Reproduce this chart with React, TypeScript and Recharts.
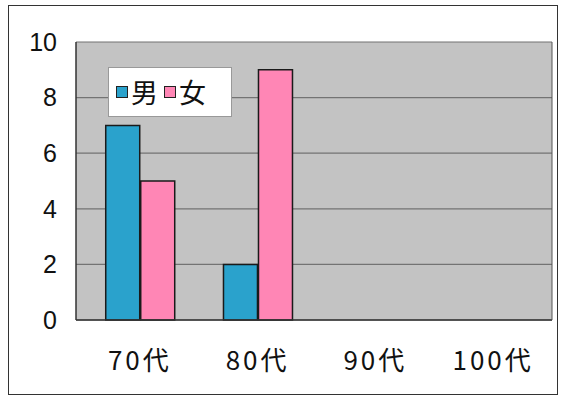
import { BarChart, Bar, XAxis, YAxis, CartesianGrid, Legend } from 'recharts';

const categories = ['70代', '80代', '90代', '100代'];
const maleCounts = [7, 2, 0, 0];
const femaleCounts = [5, 9, 0, 0];
const yTicks = [0, 2, 4, 6, 8, 10];

const MALE = '#2aa2cc';
const FEMALE = '#ff86b5';

const data = categories.map((age, i) => ({ age, male: maleCounts[i], female: femaleCounts[i] }));

function LegendBox() {
  const item = (color: string, label: string) => (
    <span style={{ display: 'inline-flex', alignItems: 'center', marginRight: 6 }}>
      <span style={{ width: 10, height: 10, background: color, border: '1.5px solid #222', marginRight: 3 }} />
      <span style={{ fontSize: 27, lineHeight: '30px' }}>{label}</span>
    </span>
  );
  return (
    <div
      style={{
        background: '#fff',
        border: '1px solid #999',
        width: 124,
        height: 50,
        boxSizing: 'border-box',
        display: 'flex',
        alignItems: 'center',
        paddingLeft: 7,
        fontFamily: '"Noto Sans CJK JP", sans-serif',
        color: '#111',
      }}
    >
      {item(MALE, '男')}
      {item(FEMALE, '女')}
    </div>
  );
}

export default function App() {
  return (
    <div style={{ position: 'absolute', left: 0, top: 0, width: 562, height: 397, background: '#fff' }}>
      <div
        style={{
          position: 'absolute',
          left: 8,
          top: 5,
          width: 550,
          height: 390,
          border: '1.5px solid #333',
          boxSizing: 'border-box',
        }}
      />
      <BarChart
        width={562}
        height={397}
        data={data}
        margin={{ top: 42, right: 0, left: 0, bottom: 0 }}
        barGap={1}
        barCategoryGap="21%"
        style={{ position: 'absolute', left: 0, top: 0 }}
      >
        <CartesianGrid vertical={false} stroke="#737373" strokeWidth={1.2} fill="#c3c3c3" yAxisId="left" />
        <XAxis
          dataKey="age"
          height={77}
          padding={{ left: 5, right: 0 }}
          tickLine={false}
          axisLine={{ stroke: '#333', strokeWidth: 1.5 }}
          tickMargin={26}
          tick={{ fontSize: 26, fill: '#111', fontFamily: '"Noto Sans CJK JP", sans-serif', letterSpacing: 3 }}
          interval={0}
        />
        <YAxis
          yAxisId="left"
          width={76}
          domain={[0, 10]}
          ticks={yTicks}
          tickLine={false}
          axisLine={{ stroke: '#333', strokeWidth: 1.5 }}
          tickMargin={13}
          tick={{ fontSize: 25, fill: '#111', fontFamily: '"Liberation Sans", Arial, sans-serif' }}
        />
        <YAxis
          yAxisId="right"
          orientation="right"
          width={10}
          domain={[0, 10]}
          tick={false}
          tickLine={false}
          axisLine={{ stroke: '#555', strokeWidth: 1 }}
        />
        <Legend
          content={<LegendBox />}
          layout="horizontal"
          verticalAlign="middle"
          align="center"
          wrapperStyle={{ left: 108, top: 67, width: 124 }}
        />
        <Bar yAxisId="left" dataKey="male" name="男" fill={MALE} stroke="#1a1a1a" strokeWidth={1.5} isAnimationActive={false} />
        <Bar yAxisId="left" dataKey="female" name="女" fill={FEMALE} stroke="#1a1a1a" strokeWidth={1.5} isAnimationActive={false} />
      </BarChart>
    </div>
  );
}
